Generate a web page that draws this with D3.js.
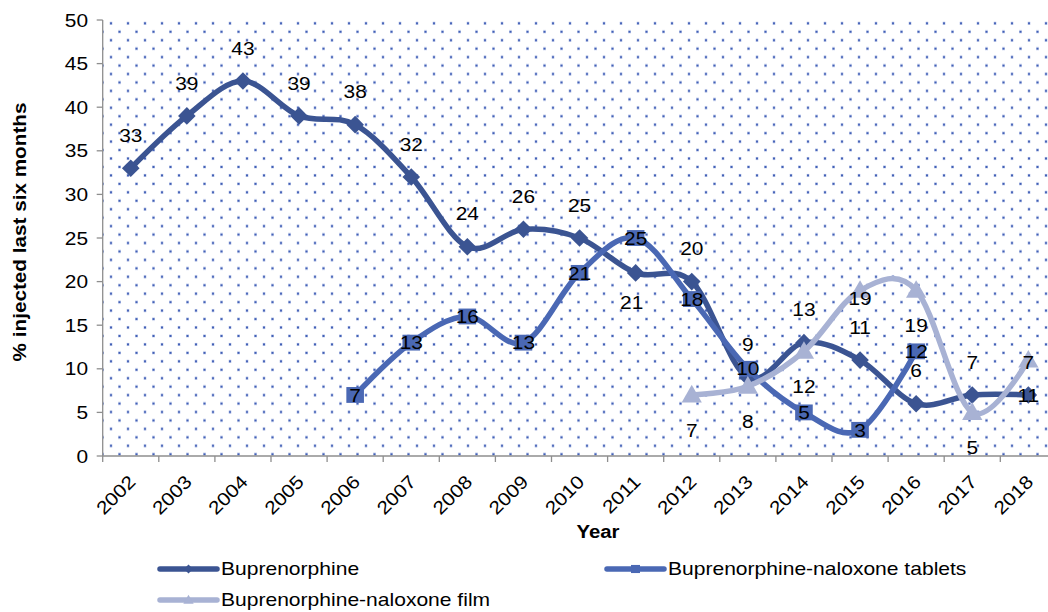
<!DOCTYPE html>
<html>
<head>
<meta charset="utf-8">
<script src="https://cdn.jsdelivr.net/npm/d3@7"></script>
<style>
  html, body { margin: 0; padding: 0; background: #fff; }
  svg { display: block; font-family: "Liberation Sans", Arial, sans-serif; }
</style>
</head>
<body>
<svg id="chart" width="1048" height="612"></svg>
<script>
// Injection of buprenorphine products in the last six months, by year
const years = ["2002","2003","2004","2005","2006","2007","2008","2009","2010",
               "2011","2012","2013","2014","2015","2016","2017","2018"];
const buprenorphine = [33, 39, 43, 39, 38, 32, 24, 26, 25, 21, 20, 9, 13, 11, 6, 7, 7];
const bnxTablets    = [null, null, null, null, 7, 13, 16, 13, 21, 25, 18, 10, 5, 3, 12, null, null];
const bnxFilm       = [null, null, null, null, null, null, null, null, null, null, 7, 8, 12, 19, 19, 5, 11];
const yTicks = [0, 5, 10, 15, 20, 25, 30, 35, 40, 45, 50];
const seriesNames = ["Buprenorphine", "Buprenorphine-naloxone tablets", "Buprenorphine-naloxone film"];

const svg = d3.select("#chart");
const FONT = 18.5, SX = 1.13;   // Excel-style wide text rendering

const plotLeft = 102.7, plotBottom = 456, plotTop = 20;
const x = d3.scaleBand().domain(years).range([plotLeft, plotLeft + 56.1 * years.length]).padding(0);
const y = d3.scaleLinear().domain([0, 50]).range([plotBottom, plotTop]);
const cx = d => x(d) + x.bandwidth() / 2;

// text helper: stretched horizontally around its anchor point
function label(g, px, py, str, opt = {}) {
  const t = g.append("text")
    .attr("transform", `translate(${px},${py})` + (opt.rotate ? ` rotate(${opt.rotate})` : "") + ` scale(${opt.sx || SX},1)`)
    .attr("text-anchor", opt.anchor || "middle")
    .attr("font-size", opt.size || FONT)
    .attr("font-weight", opt.bold ? "bold" : null)
    .attr("fill", "#000")
    .text(str);
  if (opt.dy) t.attr("dy", opt.dy);
  return t;
}

// dotted plot-area fill
const defs = svg.append("defs");
const pat = defs.append("pattern").attr("id", "dots")
  .attr("patternUnits", "userSpaceOnUse")
  .attr("x", 4).attr("y", 0).attr("width", 17).attr("height", 16.9);
[[5, 6.4], [13.5, 14.85]].forEach(([px, py]) => {
  pat.append("rect").attr("x", px - 1.5).attr("y", py - 1.5).attr("width", 3).attr("height", 3).attr("fill", "#c9d3ef");
  pat.append("rect").attr("x", px - 1).attr("y", py - 1).attr("width", 2).attr("height", 2).attr("fill", "#3f5db4");
});
defs.append("clipPath").attr("id", "plotClip").append("rect")
  .attr("x", plotLeft).attr("y", plotTop - 12).attr("width", 1048 - plotLeft).attr("height", plotBottom - plotTop + 12);

svg.append("rect").attr("x", plotLeft).attr("y", plotTop).attr("width", 1048 - plotLeft).attr("height", plotBottom - plotTop)
  .attr("fill", "url(#dots)");

// axes
const axisColor = "#8e8e8e";
const yAxis = svg.append("g");
yAxis.append("line").attr("x1", plotLeft).attr("x2", plotLeft).attr("y1", plotTop).attr("y2", plotBottom)
  .attr("stroke", axisColor).attr("stroke-width", 1.3);
yTicks.forEach(v => {
  yAxis.append("line").attr("x1", plotLeft - 6).attr("x2", plotLeft).attr("y1", y(v)).attr("y2", y(v))
    .attr("stroke", axisColor).attr("stroke-width", 1.3);
  label(yAxis, 88, y(v), v, { anchor: "end", dy: "0.36em" });
});

const xAxis = svg.append("g");
xAxis.append("line").attr("x1", plotLeft).attr("x2", 1048).attr("y1", plotBottom).attr("y2", plotBottom)
  .attr("stroke", axisColor).attr("stroke-width", 1.3);
years.forEach(d => {
  xAxis.append("line").attr("x1", x(d)).attr("x2", x(d)).attr("y1", plotBottom).attr("y2", plotBottom + 6)
    .attr("stroke", axisColor).attr("stroke-width", 1.3);
  label(xAxis, cx(d) + 6, 483, d, { anchor: "end", rotate: -45 });
});

// axis titles
label(svg, 26, 232, "% injected last six months", { rotate: -90, bold: true, sx: 1.12 });
label(svg, 598, 538, "Year", { bold: true, sx: 1.1 });

// series
const colors = ["#3b5492", "#4a68b4", "#a8b2d4"];
const shapes = ["diamond", "square", "triangle"];
const data = [buprenorphine, bnxTablets, bnxFilm];

function marker(g, shape, px, py, s, color) {
  if (shape === "diamond") {
    g.append("path").attr("d", `M${px},${py - s}L${px + s},${py}L${px},${py + s}L${px - s},${py}Z`).attr("fill", color);
  } else if (shape === "square") {
    g.append("rect").attr("x", px - s).attr("y", py - s * 0.9).attr("width", 2 * s).attr("height", 1.8 * s).attr("fill", color);
  } else {
    g.append("path").attr("d", `M${px},${py - s * 1.15}L${px + s * 1.15},${py + s * 0.85}L${px - s * 1.15},${py + s * 0.85}Z`).attr("fill", color);
  }
}

const plot = svg.append("g").attr("clip-path", "url(#plotClip)");
const line = d3.line()
  .x(d => cx(d.year)).y(d => y(d.v))
  .curve(d3.curveCardinal.tension(0));

const pts = data.map(arr => years.map((yr, i) => ({ year: yr, v: arr[i] })));

pts.forEach((p, si) => {
  const g = plot.append("g");
  const valid = p.filter(d => d.v !== null);
  g.append("path").datum(valid).attr("d", line)
    .attr("fill", "none").attr("stroke", colors[si]).attr("stroke-width", 5.5)
    .attr("stroke-linejoin", "round").attr("stroke-linecap", "round");
  valid.forEach(d => marker(g, shapes[si], cx(d.year), y(d.v), 8.8, colors[si]));
});

// data labels: Buprenorphine above, tablets centred, film below
const labels = svg.append("g");
pts[0].forEach(d => {
  const below = d.year === "2011";
  label(labels, cx(d.year) - (below ? 4 : 0), y(d.v) + (below ? 29 : -33), d.v, { dy: "0.36em" });
});
pts[1].filter(d => d.v !== null).forEach(d => label(labels, cx(d.year), y(d.v), d.v, { dy: "0.36em" }));
pts[2].filter(d => d.v !== null).forEach(d => {
  const off = d.year === "2015" ? 8 : 35;
  label(labels, cx(d.year), y(d.v) + off, d.v, { dy: "0.36em" });
});

// legend
const legend = svg.append("g");
const legendPos = [[160, 569], [607, 569], [160, 600]];
seriesNames.forEach((name, i) => {
  const [lx, ly] = legendPos[i];
  legend.append("line").attr("x1", lx).attr("x2", lx + 57).attr("y1", ly).attr("y2", ly)
    .attr("stroke", colors[i]).attr("stroke-width", 5.5).attr("stroke-linecap", "round");
  marker(legend, shapes[i], lx + 28.5, ly, 4.5, colors[i]);
  label(legend, lx + 61, ly, name, { anchor: "start", dy: "0.36em", size: 18, sx: 1.17 });
});
</script>
</body>
</html>
